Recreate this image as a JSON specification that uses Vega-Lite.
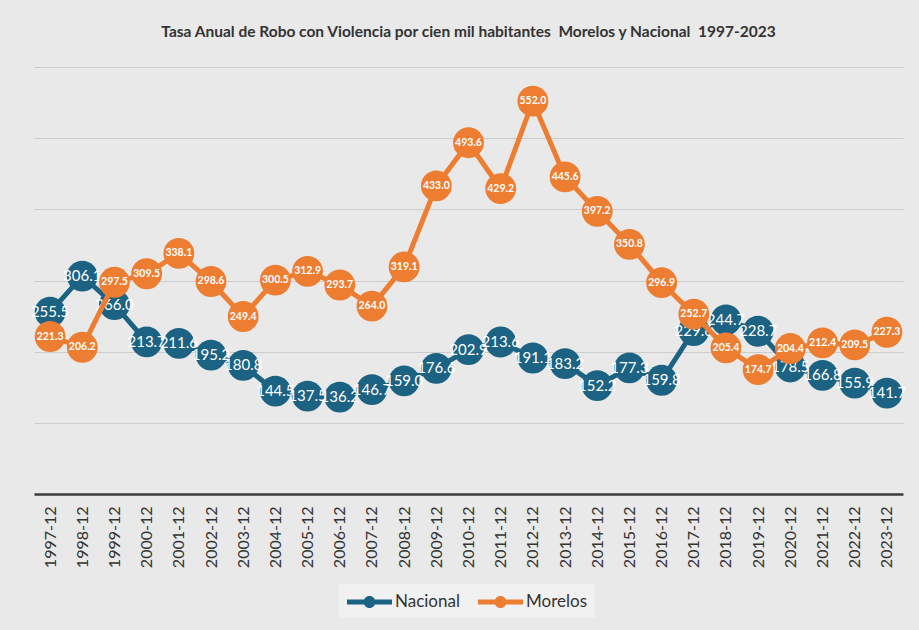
{
  "$schema": "https://vega.github.io/schema/vega-lite/v6.json",
  "width": 869,
  "height": 427,
  "autosize": {"type": "none"},
  "padding": {"left": 34, "top": 67, "right": 16, "bottom": 136},
  "background": "#e9e9e9",
  "title": {
    "text": "Tasa Anual de Robo con Violencia por cien mil habitantes \u00a0Morelos y Nacional \u00a01997-2023",
    "font": "Lato",
    "fontSize": 15.5,
    "fontWeight": "bold",
    "color": "#333333",
    "anchor": "middle",
    "offset": 27
  },
  "config": {
    "view": {"stroke": null},
    "font": "Lato"
  },
  "data": {
    "values": [
      {"fecha": "1997-12", "serie": "Nacional", "valor": 255.5},
      {"fecha": "1998-12", "serie": "Nacional", "valor": 306.1},
      {"fecha": "1999-12", "serie": "Nacional", "valor": 266.0},
      {"fecha": "2000-12", "serie": "Nacional", "valor": 213.7},
      {"fecha": "2001-12", "serie": "Nacional", "valor": 211.6},
      {"fecha": "2002-12", "serie": "Nacional", "valor": 195.2},
      {"fecha": "2003-12", "serie": "Nacional", "valor": 180.8},
      {"fecha": "2004-12", "serie": "Nacional", "valor": 144.5},
      {"fecha": "2005-12", "serie": "Nacional", "valor": 137.5},
      {"fecha": "2006-12", "serie": "Nacional", "valor": 136.2},
      {"fecha": "2007-12", "serie": "Nacional", "valor": 146.7},
      {"fecha": "2008-12", "serie": "Nacional", "valor": 159.0},
      {"fecha": "2009-12", "serie": "Nacional", "valor": 176.6},
      {"fecha": "2010-12", "serie": "Nacional", "valor": 202.9},
      {"fecha": "2011-12", "serie": "Nacional", "valor": 213.6},
      {"fecha": "2012-12", "serie": "Nacional", "valor": 191.1},
      {"fecha": "2013-12", "serie": "Nacional", "valor": 183.2},
      {"fecha": "2014-12", "serie": "Nacional", "valor": 152.2},
      {"fecha": "2015-12", "serie": "Nacional", "valor": 177.3},
      {"fecha": "2016-12", "serie": "Nacional", "valor": 159.8},
      {"fecha": "2017-12", "serie": "Nacional", "valor": 229.6},
      {"fecha": "2018-12", "serie": "Nacional", "valor": 244.7},
      {"fecha": "2019-12", "serie": "Nacional", "valor": 228.7},
      {"fecha": "2020-12", "serie": "Nacional", "valor": 178.5},
      {"fecha": "2021-12", "serie": "Nacional", "valor": 166.8},
      {"fecha": "2022-12", "serie": "Nacional", "valor": 155.9},
      {"fecha": "2023-12", "serie": "Nacional", "valor": 141.7},
      {"fecha": "1997-12", "serie": "Morelos", "valor": 221.3},
      {"fecha": "1998-12", "serie": "Morelos", "valor": 206.2},
      {"fecha": "1999-12", "serie": "Morelos", "valor": 297.5},
      {"fecha": "2000-12", "serie": "Morelos", "valor": 309.5},
      {"fecha": "2001-12", "serie": "Morelos", "valor": 338.1},
      {"fecha": "2002-12", "serie": "Morelos", "valor": 298.6},
      {"fecha": "2003-12", "serie": "Morelos", "valor": 249.4},
      {"fecha": "2004-12", "serie": "Morelos", "valor": 300.5},
      {"fecha": "2005-12", "serie": "Morelos", "valor": 312.9},
      {"fecha": "2006-12", "serie": "Morelos", "valor": 293.7},
      {"fecha": "2007-12", "serie": "Morelos", "valor": 264.0},
      {"fecha": "2008-12", "serie": "Morelos", "valor": 319.1},
      {"fecha": "2009-12", "serie": "Morelos", "valor": 433.0},
      {"fecha": "2010-12", "serie": "Morelos", "valor": 493.6},
      {"fecha": "2011-12", "serie": "Morelos", "valor": 429.2},
      {"fecha": "2012-12", "serie": "Morelos", "valor": 552.0},
      {"fecha": "2013-12", "serie": "Morelos", "valor": 445.6},
      {"fecha": "2014-12", "serie": "Morelos", "valor": 397.2},
      {"fecha": "2015-12", "serie": "Morelos", "valor": 350.8},
      {"fecha": "2016-12", "serie": "Morelos", "valor": 296.9},
      {"fecha": "2017-12", "serie": "Morelos", "valor": 252.7},
      {"fecha": "2018-12", "serie": "Morelos", "valor": 205.4},
      {"fecha": "2019-12", "serie": "Morelos", "valor": 174.7},
      {"fecha": "2020-12", "serie": "Morelos", "valor": 204.4},
      {"fecha": "2021-12", "serie": "Morelos", "valor": 212.4},
      {"fecha": "2022-12", "serie": "Morelos", "valor": 209.5},
      {"fecha": "2023-12", "serie": "Morelos", "valor": 227.3}
    ]
  },
  "encoding": {
    "x": {
      "field": "fecha",
      "type": "ordinal",
      "sort": null,
      "scale": {"type": "point", "padding": 0.5},
      "axis": {
        "title": null,
        "labelAngle": 270,
        "labelAlign": "right",
        "labelBaseline": "middle",
        "labelFont": "Lato",
        "labelFontSize": 16,
        "labelColor": "#333333",
        "labelPadding": 12,
        "ticks": false,
        "domainColor": "#3a3a3a",
        "domainWidth": 2.5,
        "grid": false
      }
    },
    "y": {
      "field": "valor",
      "type": "quantitative",
      "scale": {"domain": [0, 600], "nice": false},
      "axis": {
        "title": null,
        "labels": false,
        "ticks": false,
        "domain": false,
        "values": [100, 200, 300, 400, 500, 600],
        "grid": true,
        "gridColor": "#cccccc",
        "gridWidth": 1
      }
    },
    "color": {
      "field": "serie",
      "type": "nominal",
      "scale": {"domain": ["Nacional", "Morelos"], "range": ["#1b6283", "#ed7d31"]},
      "legend": {
        "title": null,
        "orient": "none",
        "direction": "horizontal",
        "legendX": 305,
        "legendY": 517,
        "padding": 8,
        "fillColor": "#f1f1f1",
        "symbolType": "M-1,-0.25H3.5V0.25H-1Z M0.65,0A0.6,0.6 0 1,1 1.85,0A0.6,0.6 0 1,1 0.65,0Z",
        "symbolSize": 400,
        "symbolStrokeWidth": 0,
        "symbolOpacity": 1,
        "labelFont": "Lato",
        "labelFontSize": 17,
        "labelColor": "#333333",
        "labelOffset": 28,
        "columnPadding": 18,
        "encode": {
          "symbols": {
            "update": {
              "fill": {"scale": "color", "field": "value"},
              "stroke": {"value": "transparent"},
              "opacity": {"value": 1}
            }
          }
        }
      }
    }
  },
  "layer": [
    {
      "transform": [{"filter": "datum.serie === 'Nacional'"}],
      "mark": {"type": "line", "strokeWidth": 5}
    },
    {
      "transform": [{"filter": "datum.serie === 'Nacional'"}],
      "mark": {"type": "circle", "size": 950, "opacity": 1}
    },
    {
      "transform": [{"filter": "datum.serie === 'Nacional'"}],
      "mark": {"type": "text", "font": "Lato", "fontSize": 15, "align": "center", "baseline": "middle"},
      "encoding": {
        "text": {"field": "valor", "type": "quantitative", "format": ".1f"},
        "color": {"value": "white"}
      }
    },
    {
      "transform": [{"filter": "datum.serie === 'Morelos'"}],
      "mark": {"type": "line", "strokeWidth": 5}
    },
    {
      "transform": [{"filter": "datum.serie === 'Morelos'"}],
      "mark": {"type": "circle", "size": 950, "opacity": 1}
    },
    {
      "transform": [{"filter": "datum.serie === 'Morelos'"}],
      "mark": {"type": "text", "font": "Lato", "fontSize": 10.5, "fontWeight": "bold", "align": "center", "baseline": "middle"},
      "encoding": {
        "text": {"field": "valor", "type": "quantitative", "format": ".1f"},
        "color": {"value": "white"}
      }
    }
  ]
}
